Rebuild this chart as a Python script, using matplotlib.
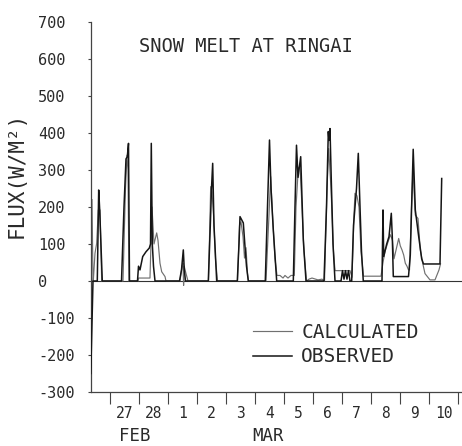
import matplotlib
matplotlib.use("Agg")
import matplotlib.pyplot as plt
import numpy as np

# time in days since 27 Feb 00:00, flux in W/m^2
obs_day = [-0.662, -0.586, -0.438, -0.390, -0.355, -0.266,
           0.397, 0.483, 0.552, 0.597, 0.638, 0.672,
           0.948, 0.983, 1.034, 1.128, 1.241, 1.355, 1.397, 1.424, 1.459, 1.500, 1.552,
           2.397, 2.466, 2.528, 2.562, 2.603,
           3.390, 3.459, 3.500, 3.541, 3.586, 3.679,
           4.390, 4.448, 4.483, 4.597, 4.655, 4.707, 4.769,
           5.355, 5.431, 5.500, 5.552, 5.631, 5.748,
           6.321, 6.379, 6.431, 6.483, 6.576, 6.666, 6.759,
           7.379, 7.466, 7.528, 7.552, 7.586, 7.638, 7.690, 7.759,
           7.966, 8.017, 8.069, 8.121, 8.172, 8.224, 8.276,
           8.334, 8.397, 8.500, 8.562, 8.621, 8.672, 8.734,
           9.379, 9.414, 9.438, 9.541, 9.621, 9.700, 9.734, 9.769,
           10.293, 10.355, 10.455, 10.528, 10.645, 10.748, 10.810,
           11.379, 11.438]
obs_flux = [-250, 0, 0, 246, 192, 0,
            0, 200, 330, 336, 372, 0,
            0, 40, 30, 66, 79, 89, 100, 372, 100, 40, 0,
            0, 30, 84, 30, 0,
            0, 150, 250, 318, 150, 0,
            0, 100, 174, 157, 93, 40, 0,
            0, 200, 381, 250, 138, 0,
            0, 200, 367, 280, 336, 110, 0,
            0, 200, 404, 380, 412, 250, 100, 0,
            0, 28, 5, 28, 5, 28, 0,
            0, 150, 250, 345, 200, 80, 0,
            0, 192, 66, 100, 120, 183, 120, 12,
            12, 70, 356, 192, 120, 60, 46,
            46, 277]

calc_day = [-0.621, -0.586, -0.576, -0.517, -0.459, -0.403, -0.345, -0.286,
            0.448, 0.534, 0.586, 0.621, 0.655,
            0.966, 0.983, 1.379, 1.448, 1.517, 1.610, 1.655, 1.724, 1.783, 1.897, 1.931,
            2.414, 2.483, 2.517, 2.538, 2.559, 2.621, 2.690,
            3.397, 3.472, 3.517, 3.569, 3.638, 3.707,
            4.397, 4.466, 4.517, 4.586, 4.638, 4.690, 4.741, 4.776,
            5.379, 5.466, 5.541, 5.603, 5.690, 5.759, 5.862, 5.966, 6.034, 6.138, 6.241,
            6.355, 6.414, 6.493, 6.552, 6.621, 6.690, 6.776, 6.862, 6.966, 7.172, 7.310,
            7.397, 7.483, 7.541, 7.621, 7.707, 7.759, 8.276, 8.345,
            8.414, 8.448, 8.517, 8.586, 8.655, 8.741, 9.345,
            9.414, 9.483, 9.610, 9.672, 9.741, 9.793, 9.838, 9.955, 10.010, 10.069,
            10.128, 10.183, 10.241, 10.293,
            10.328, 10.397, 10.448, 10.528, 10.621, 10.700, 10.783, 10.862, 11.034,
            11.207, 11.345, 11.397]
calc_flux = [220, 0, 0, 75, 102, 192, 192, 0,
             0, 250, 340, 300, 0,
             0, 8, 8, 200, 100, 130, 110, 48, 25, 12, 0,
             0, 40, 48, -12, 40, 20, 0,
             0, 255, 240, 180, 60, 0,
             0, 150, 160, 120, 62, 90, 20, 0,
             0, 150, 282, 180, 60, 15, 15, 8, 15, 8, 15,
             15, 200, 305, 310, 200, 80, 0, 5, 8, 3, 5,
             0, 250, 358, 250, 80, 28, 28, 10,
             180, 237, 230, 200, 80, 13, 13,
             50, 80, 111, 125, 110, 60, 75, 115, 95, 84,
             70, 48, 40, 30,
             30, 200, 300, 178, 169, 84, 48, 20, 3,
             3, 30, 46]

day_ticks = list(range(0, 13))
day_labels = ['27', '28', '1', '2', '3', '4', '5', '6', '7', '8', '9', '10']
flux_ticks = [-300, -200, -100, 0, 100, 200, 300, 400, 500, 600, 700]
flux_labels = ['-300', '-200', '-100', '0', '100', '200', '300', '400', '500', '600', '700']

FONT = 'DejaVu Sans Mono'
TXT = '#2a2a2a'
W, H = 462, 446
fig = plt.figure(figsize=(W / 100, H / 100), dpi=100)
ax = fig.add_axes([91 / W, 1 - 392 / H, (W - 91) / W, (392 - 22) / H])

ax.axhline(0, color='#333333', lw=0.8, zorder=1)
l_calc, = ax.plot(calc_day, calc_flux, color='#707070', lw=0.85, label='CALCULATED', zorder=2)
l_obs, = ax.plot(obs_day, obs_flux, color='#151515', lw=1.1, label='OBSERVED', zorder=3)

ax.set_xlim(-0.655, 12.138)
ax.set_ylim(-300, 700)

for s in ['top', 'right']:
    ax.spines[s].set_visible(False)
for s in ['left', 'bottom']:
    ax.spines[s].set_color('#444444')
    ax.spines[s].set_linewidth(0.9)

ax.set_xticks(day_ticks)
ax.set_xticklabels([])
ax.set_xticks([d + 0.5 for d in range(len(day_labels))], minor=True)
ax.set_xticklabels(day_labels, minor=True, fontsize=10.5, family=FONT, color=TXT)
ax.tick_params(axis='x', which='major', direction='out', length=8.6, width=0.8, color='#444444')
ax.tick_params(axis='x', which='minor', length=0, pad=10)

ax.set_yticks(flux_ticks)
ax.set_yticklabels(flux_labels, fontsize=11, family=FONT, color=TXT)
ax.tick_params(axis='y', direction='out', length=2.5, width=0.8, color='#444444', pad=35.5)
for lbl in ax.get_yticklabels():
    lbl.set_horizontalalignment('left')

fig.text(246 / W, 1 - 47 / H, 'SNOW MELT AT RINGAI', ha='center', va='center',
         fontsize=13.5, family=FONT, color=TXT)
fig.text(17 / W, 1 - 175 / H, 'FLUX(W/M²)', ha='center', va='center', rotation=90,
         fontsize=15, family=FONT, color=TXT)
fig.text(135 / W, 1 - 436 / H, 'FEB', ha='center', va='center', fontsize=12.5, family=FONT, color=TXT)
fig.text(268 / W, 1 - 436 / H, 'MAR', ha='center', va='center', fontsize=12.5, family=FONT, color=TXT)

leg = fig.legend(handles=[l_calc, l_obs], loc='upper left',
                 bbox_to_anchor=(239 / W, 1 - 309 / H), frameon=False,
                 prop={'family': FONT, 'size': 14}, handlelength=2.0,
                 handletextpad=0.5, labelspacing=0.3, borderpad=0.2)
for t in leg.get_texts():
    t.set_color(TXT)

fig.savefig('out.png', dpi=100)
